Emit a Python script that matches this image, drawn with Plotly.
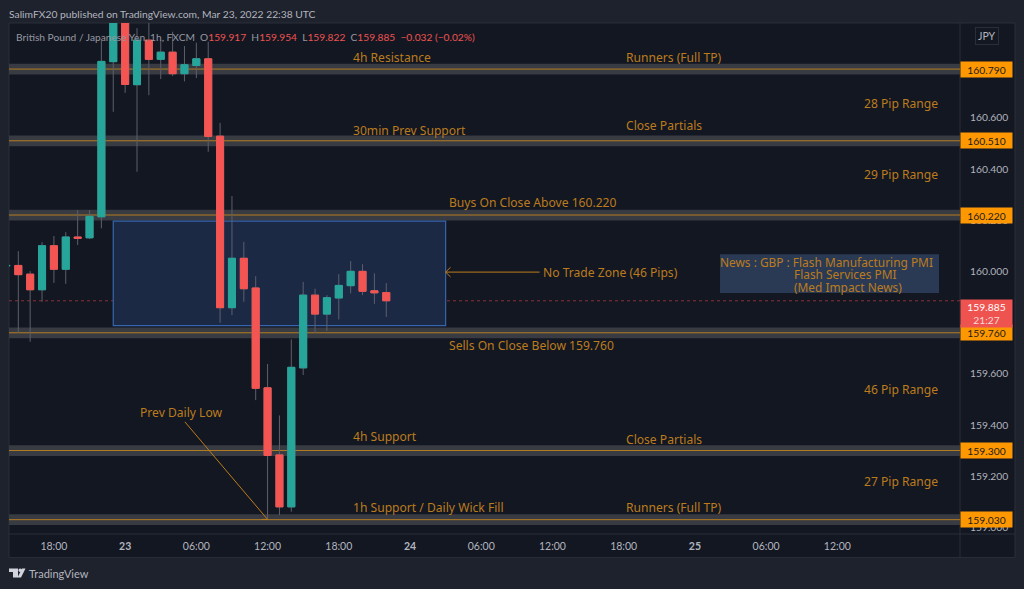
import pandas as pd
import plotly.graph_objects as go

# ── STYLE ─────────────────────────────────────────────
PAGE = "#1e222d"
PANE = "#131722"
BORDER = "#2a2e39"
GREY = "#b2b5be"
UP = "#26a69a"
DOWN = "#f45552"
WICK = "#5d606b"
ORANGE = "#ff9800"
LABEL = "#bc7c1d"
LEVEL_LINE = "#b57c20"
BAND = "#383b42"
FONT = "Noto Sans"
UI_FONT = "Lato"

W, H = 1024, 589
LEFT, RIGHT, TOP, BOTTOM = 9, 960, 23, 534.5

# ── DATA ──────────────────────────────────────────────
times = pd.date_range("2022-03-22 14:00", periods=33, freq="h")
opens = [160.021, 160.023, 159.989, 159.928, 160.100, 160.008, 160.134, 160.131, 160.213,
         160.819, 161.050, 160.729, 160.903, 160.828, 160.856, 160.772, 160.804, 160.830,
         160.528, 159.858, 160.051, 159.935, 159.545, 159.283, 159.080, 159.623, 159.907,
         159.833, 159.896, 159.944, 160.000, 159.924, 159.917]
closes = [160.023, 159.987, 159.928, 160.100, 160.008, 160.134, 160.129, 160.215, 160.820,
          161.050, 160.730, 160.903, 160.828, 160.856, 160.772, 160.807, 160.830, 160.527,
          159.858, 160.051, 159.932, 159.543, 159.281, 159.080, 159.625, 159.907, 159.833,
          159.897, 159.945, 160.000, 159.922, 159.916, 159.885]
highs = [160.024, 160.079, 160.001, 160.114, 160.138, 160.153, 160.239, 160.239, 160.900,
         161.090, 161.080, 160.950, 161.000, 160.903, 160.936, 160.880, 160.893, 160.897,
         160.580, 160.294, 160.115, 159.981, 159.638, 159.437, 159.734, 159.959, 159.932,
         159.907, 159.989, 160.040, 160.028, 159.992, 159.954]
lows = [160.020, 159.759, 159.725, 159.881, 159.955, 159.951, 160.103, 160.126, 160.168,
        160.623, 160.697, 160.389, 160.688, 160.751, 160.763, 160.742, 160.755, 160.467,
        159.799, 159.829, 159.881, 159.497, 159.032, 159.048, 159.061, 159.595, 159.759,
        159.767, 159.812, 159.914, 159.907, 159.873, 159.822]

levels = [160.790, 160.510, 160.220, 159.760, 159.300, 159.030]
last_price = 159.885

price_ticks = [159.0, 159.2, 159.4, 159.6, 159.8, 160.0, 160.2, 160.4, 160.6, 160.8]
time_ticks = ["2022-03-22 18:00", "2022-03-23 00:00", "2022-03-23 06:00", "2022-03-23 12:00",
              "2022-03-23 18:00", "2022-03-24 00:00", "2022-03-24 06:00", "2022-03-24 12:00",
              "2022-03-24 18:00", "2022-03-25 00:00", "2022-03-25 06:00", "2022-03-25 12:00"]
time_labels = ["18:00", "<b>23</b>", "06:00", "12:00", "18:00", "<b>24</b>", "06:00", "12:00",
               "18:00", "<b>25</b>", "06:00", "12:00"]

label_texts = ["4h Resistance", "Runners (Full TP)", "28 Pip Range", "30min Prev Support",
               "Close Partials", "29 Pip Range", "Buys On Close Above 160.220",
               "No Trade Zone (46 Pips)", "Sells On Close Below 159.760", "46 Pip Range",
               "Prev Daily Low", "4h Support", "Close Partials", "27 Pip Range",
               "1h Support / Daily Wick Fill", "Runners (Full TP)"]
label_times = ["2022-03-23 19:01", "2022-03-24 18:01", "2022-03-25 14:04", "2022-03-23 19:01",
               "2022-03-24 18:01", "2022-03-25 14:04", "2022-03-24 03:07", "2022-03-24 11:02",
               "2022-03-24 03:07", "2022-03-25 14:04", "2022-03-23 01:05", "2022-03-23 19:01",
               "2022-03-24 18:01", "2022-03-25 14:04", "2022-03-23 19:01", "2022-03-24 18:01"]
label_prices = [160.837, 160.837, 160.657, 160.552, 160.571, 160.380, 160.270, 159.997, 159.712,
                159.540, 159.450, 159.356, 159.345, 159.181, 159.079, 159.079]

news_lines = ["News : GBP : Flash Manufacturing PMI", "Flash Services PMI", "(Med Impact News)"]
news_line_times = ["2022-03-25 01:55", "2022-03-25 08:10", "2022-03-25 08:10"]
news_line_prices = [160.036, 159.989, 159.940]

zone_times = ["2022-03-22 23:00", "2022-03-24 03:00"]
zone_prices = [159.788, 160.196]
news_times = ["2022-03-25 02:07", "2022-03-25 20:34"]
news_prices = [159.915, 160.067]

# ── HELPERS ───────────────────────────────────────────
def paper_x(px):
    return (px - LEFT) / (RIGHT - LEFT)

def paper_y(px):
    return (BOTTOM - px) / (BOTTOM - TOP)

def page_text(text, x, y, size, color=GREY, anchor="left", **kw):
    return dict(text=text, x=paper_x(x), y=paper_y(y), xref="paper", yref="paper", xanchor=anchor,
                yanchor="middle", showarrow=False, font=dict(size=size, color=color, family=UI_FONT), **kw)

def price_tag(text, price, color, font_color, height=15):
    return dict(text=text, x=1, y=price, xref="paper", yref="y", xanchor="left", yanchor="middle",
                showarrow=False, bgcolor=color, width=51, height=height, borderpad=0, align="center",
                font=dict(size=10.3, color=font_color, family=UI_FONT))

fig = go.Figure()

# wicks first, then the bodies on top so the outlines keep the body colour
fig.add_trace(go.Candlestick(
    x=times, open=opens, high=highs, low=lows, close=closes,
    increasing=dict(line=dict(color=WICK, width=1), fillcolor=UP),
    decreasing=dict(line=dict(color=WICK, width=1), fillcolor=DOWN),
    hoverinfo="skip",
))
body_top = [max(o, c) for o, c in zip(opens, closes)]
body_bot = [min(o, c) for o, c in zip(opens, closes)]
fig.add_trace(go.Candlestick(
    x=times, open=opens, high=body_top, low=body_bot, close=closes,
    increasing=dict(line=dict(color=UP, width=1), fillcolor=UP),
    decreasing=dict(line=dict(color=DOWN, width=1), fillcolor=DOWN),
))

# ── ARROWS ────────────────────────────────────────────
fig.add_trace(go.Scatter(
    x=["2022-03-24 03:25", "2022-03-24 03:00", "2022-03-24 03:25", None,
       "2022-03-24 03:00", "2022-03-24 10:55"],
    y=[160.016, 159.997, 159.978, None, 159.997, 159.997],
    mode="lines", line=dict(color=LABEL, width=1), hoverinfo="skip",
))
fig.add_trace(go.Scatter(
    x=["2022-03-23 05:02", "2022-03-23 12:00", "2022-03-23 11:30"],
    y=[159.412, 159.031, 159.031],
    mode="lines", line=dict(color=LABEL, width=1), hoverinfo="skip",
))

# ── SHAPES ────────────────────────────────────────────
shapes = [
    # pane + price scale + time scale background
    dict(type="rect", xref="paper", yref="paper", layer="below", x0=0, x1=paper_x(1015),
         y0=paper_y(558), y1=1, fillcolor=PANE, line=dict(color=BORDER, width=1)),
    dict(type="line", xref="paper", yref="paper", layer="below", x0=1, x1=1,
         y0=paper_y(558), y1=1, line=dict(color=BORDER, width=1)),
    dict(type="line", xref="paper", yref="paper", layer="below", x0=0, x1=paper_x(1015),
         y0=0, y1=0, line=dict(color=BORDER, width=1)),
    # logo
    dict(type="path", xref="paper", yref="paper", fillcolor="#d1d4dc", line=dict(width=0),
         path=f"M{paper_x(9)},{paper_y(569)} L{paper_x(18)},{paper_y(569)} L{paper_x(18)},{paper_y(578)} "
              f"L{paper_x(13)},{paper_y(578)} L{paper_x(13)},{paper_y(572.5)} L{paper_x(9)},{paper_y(572.5)} Z"),
    dict(type="circle", xref="paper", yref="paper", fillcolor="#d1d4dc", line=dict(width=0),
         x0=paper_x(18.4), x1=paper_x(22), y0=paper_y(572.5), y1=paper_y(569)),
    dict(type="path", xref="paper", yref="paper", fillcolor="#d1d4dc", line=dict(width=0),
         path=f"M{paper_x(22)},{paper_y(569)} L{paper_x(25.5)},{paper_y(569)} L{paper_x(21)},{paper_y(578)} "
              f"L{paper_x(17.5)},{paper_y(578)} Z"),
    # no trade zone and news box
    dict(type="rect", layer="below", x0=zone_times[0], x1=zone_times[1], y0=zone_prices[0], y1=zone_prices[1],
         fillcolor="#1b2945", line=dict(color="#3565ad", width=1.2)),
    dict(type="rect", layer="below", x0=news_times[0], x1=news_times[1], y0=news_prices[0], y1=news_prices[1],
         fillcolor="#2a3a55", line=dict(width=0)),
    # last price
    dict(type="line", layer="below", xref="x domain", x0=0, x1=1, y0=last_price, y1=last_price,
         line=dict(color="#8a3038", width=1, dash="dot")),
]
for level in levels:
    shapes.append(dict(type="rect", layer="below", xref="x domain", x0=0, x1=1,
                       y0=level - 0.021, y1=level + 0.021, fillcolor=BAND, line=dict(width=0)))
    shapes.append(dict(type="line", layer="below", xref="x domain", x0=0, x1=1,
                       y0=level, y1=level, line=dict(color=LEVEL_LINE, width=1)))

# ── TEXT ──────────────────────────────────────────────
annotations = []
for text, t, p in zip(label_texts, label_times, label_prices):
    annotations.append(dict(text=text, x=t, y=p, xanchor="left", yanchor="middle", showarrow=False,
                            font=dict(size=12.1, color=LABEL, family=FONT)))
for text, t, p in zip(news_lines, news_line_times, news_line_prices):
    annotations.append(dict(text=text, x=t, y=p, xanchor="left", yanchor="middle", showarrow=False,
                            font=dict(size=11.9, color=LABEL, family=FONT)))

for level in levels:
    annotations.append(price_tag(f"{level:.3f}", level, ORANGE, "#1b1b1b"))
annotations.append(price_tag(f"<span style='color:white'>{last_price:.3f}</span><br>21:27",
                             159.834, "#ef5350", "#f7dada", height=27))
annotations.append(page_text("SalimFX20 published on TradingView.com, Mar 23, 2022 22:38 UTC",
                             7, 13.5, 10.3, GREY))
red = "<span style='color:#ef5350'>"
annotations.append(page_text(
    f"British Pound / Japanese Yen, 1h, FXCM  O{red}159.917</span>  H{red}159.954</span>  "
    f"L{red}159.822</span>  C{red}159.885  −0.032 (−0.02%)</span>",
    14, 37, 10.2, "#9598a1"))
annotations.append(page_text("JPY", 987.3, 36.5, 10.5, GREY, anchor="center", bordercolor=BORDER,
                             borderwidth=1, borderpad=2))
annotations.append(page_text("TradingView", 27, 574, 11, GREY))

fig.update_layout(
    width=W, height=H,
    margin=dict(l=LEFT, r=W - RIGHT, t=TOP, b=H - BOTTOM, pad=0),
    paper_bgcolor=PAGE, plot_bgcolor=PANE,
    showlegend=False, boxgap=0.15,
    font=dict(family=UI_FONT, color=GREY, size=12),
    shapes=shapes, annotations=annotations,
    xaxis=dict(
        range=["2022-03-22 14:13", "2022-03-25 22:20"], rangeslider=dict(visible=False),
        showgrid=False, zeroline=False, showline=False, ticks="",
        tickmode="array", tickvals=time_ticks, ticktext=time_labels,
        tickfont=dict(size=10.5, color=GREY, family=UI_FONT), ticklabelstandoff=4,
    ),
    yaxis=dict(
        range=[158.974, 160.970], side="right",
        showgrid=False, zeroline=False, showline=False, ticks="",
        tickmode="array", tickvals=price_ticks, ticktext=[f"{v:.3f}" for v in price_ticks],
        tickfont=dict(size=10.3, color=GREY, family=UI_FONT), ticklabelstandoff=9,
    ),
)

# the page's default body margin would push the chart 8px off
fig.write_html("out.html", config=dict(displayModeBar=False),
               post_script="document.body.style.margin='0';document.body.style.background='#1e222d';")
